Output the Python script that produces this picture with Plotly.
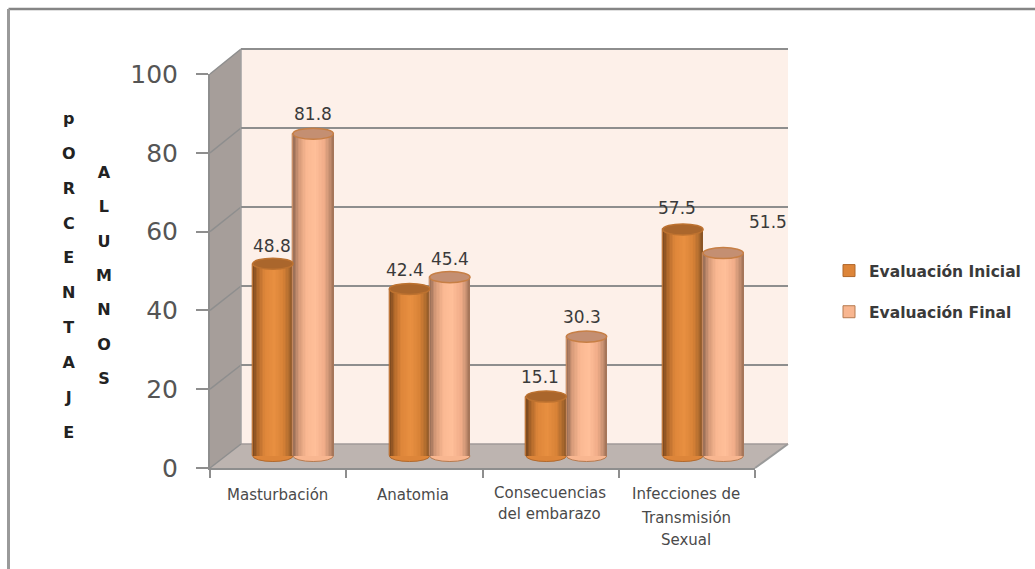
import plotly.graph_objects as go

W, H = 1035, 569

# Chart data
categories = ["Masturbación", "Anatomia", "Consecuencias del embarazo", "Infecciones de Transmisión Sexual"]
category_lines = [["Masturbación"], ["Anatomia"], ["Consecuencias", "del embarazo"], ["Infecciones de", "Transmisión", "Sexual"]]
evaluacion_inicial = [48.8, 42.4, 15.1, 57.5]
evaluacion_final = [81.8, 45.4, 30.3, 51.5]
y_ticks = [0, 20, 40, 60, 80, 100]
title_porcentaje = list("pORCENTAJE")
title_alumnos = list("ALUMNOS")

# Colour stops across a cylinder, left edge to right edge
STOPS_INICIAL = [(0, (128, 76, 32)), (0.10, (176, 104, 42)), (0.28, (222, 134, 58)), (0.52, (232, 143, 64)),
                 (0.75, (216, 130, 55)), (0.90, (176, 108, 46)), (1, (140, 86, 38))]
STOPS_FINAL = [(0, (158, 114, 90)), (0.12, (214, 154, 120)), (0.32, (250, 184, 146)), (0.55, (255, 191, 153)),
               (0.78, (240, 172, 136)), (0.92, (196, 142, 112)), (1, (166, 118, 90))]
FILL = {"i": "#DD8539", "f": "#F8B690"}
CAP = {"i": "#AA662C", "f": "#C48F72"}
CAP_EDGE = {"i": "#BD7230", "f": "#C77F45"}
EDGE = {"i": "#B0682C", "f": "#B57A50"}
GRID = "#8E8E8E"
TEXT = "#4A4A4A"


def px(x):
    return x / W


def py(y):
    return 1 - y / H


def ramp(stops, n):
    # Evaluate the colour stops at n even steps across the cylinder
    out = []
    for k in range(n):
        t = k / (n - 1)
        for (t0, c0), (t1, c1) in zip(stops, stops[1:]):
            if t <= t1:
                f = (t - t0) / (t1 - t0)
                out.append("rgb(%d,%d,%d)" % tuple(round(a + (b - a) * f) for a, b in zip(c0, c1)))
                break
    return out


# Three planes of the box: back wall, middle (cylinders) and front (axes)
BACK = dict(x0=241, x1=788, y0=444, y1=49)
MID = dict(x0=224.7, x1=771.4, y0=456, y1=62)
FRONT = dict(x0=210, x1=755, y0=468, y1=74)
MID_FLOOR = -6          # value below zero kept visible so the round cylinder bottoms are not clipped
PX_PER_UNIT = (MID["y0"] - MID["y1"]) / 100
CYL_W = 0.295           # cylinder width in category units
CAP_H = 1.4             # half height of the elliptical ends in value units
N_SLICES = 28

fig = go.Figure()


def add_series(name, values, key, stops, off):
    slice_w = CYL_W / N_SLICES
    xs = [i + off for i in range(len(values))]
    fig.add_bar(x=xs, y=values, width=CYL_W, name=name, xaxis="x3", yaxis="y3", legendgroup=name,
                marker=dict(color=FILL[key], line=dict(color=EDGE[key], width=1)), hoverinfo="skip")
    for k, colour in enumerate(ramp(stops, N_SLICES)):
        wide = slice_w * (2 if k < N_SLICES - 1 else 1)
        fig.add_bar(x=[x - CYL_W / 2 + slice_w * k for x in xs], y=values, width=wide, offset=0,
                    xaxis="x3", yaxis="y3", showlegend=False, legendgroup=name,
                    marker=dict(color=colour, line=dict(width=0)), hoverinfo="skip")


add_series("Evaluación Inicial", evaluacion_inicial, "i", STOPS_INICIAL, -CYL_W / 2)
add_series("Evaluación Final", evaluacion_final, "f", STOPS_FINAL, CYL_W / 2)

shapes = []


def poly(points, fill):
    path = "M" + " L".join(f"{px(x)},{py(y)}" for x, y in points) + " Z"
    shapes.append(dict(type="path", path=path, xref="paper", yref="paper", fillcolor=fill,
                       line=dict(width=0), layer="below"))


def seg(x0, y0, x1, y1, colour=GRID, width=2):
    shapes.append(dict(type="line", xref="paper", yref="paper", x0=px(x0), y0=py(y0), x1=px(x1), y1=py(y1),
                       line=dict(color=colour, width=width), layer="below"))


# Walls and floor of the box
poly([(BACK["x0"], BACK["y1"]), (BACK["x1"], BACK["y1"]), (BACK["x1"], BACK["y0"]), (BACK["x0"], BACK["y0"])], "#FDF0E9")
poly([(FRONT["x0"], FRONT["y1"]), (BACK["x0"], BACK["y1"]), (BACK["x0"], BACK["y0"]), (FRONT["x0"], FRONT["y0"])], "#A69E9A")
poly([(FRONT["x0"], FRONT["y0"]), (BACK["x0"], BACK["y0"]), (BACK["x1"], BACK["y0"]), (FRONT["x1"], FRONT["y0"])], "#BDB4B0")

# Slanted grid lines on the side wall
for t in y_ticks:
    yf = FRONT["y0"] + (FRONT["y1"] - FRONT["y0"]) * t / 100
    yb = BACK["y0"] + (BACK["y1"] - BACK["y0"]) * t / 100
    seg(FRONT["x0"], yf, BACK["x0"], yb, colour="#8E8E8E", width=1.5)
seg(FRONT["x1"], FRONT["y0"], BACK["x1"], BACK["y0"], colour="#9A9A9A", width=2)
seg(BACK["x0"], BACK["y1"], BACK["x0"], BACK["y0"], colour="#A0A0A0", width=1.5)

# Top and bottom edges of the back wall
seg(BACK["x0"], BACK["y1"], BACK["x1"], BACK["y1"], colour=GRID, width=2)
seg(BACK["x0"], BACK["y0"], BACK["x1"], BACK["y0"], colour="#A09A98", width=1.5)

# Frame around the picture: top and left only
seg(8.5, 9, W, 9, colour="#858585", width=2.5)
seg(8.5, 9, 8.5, H, colour="#9A9A9A", width=3)


def cylinder_ends(values, key, off):
    for i, v in enumerate(values):
        x = i + off
        # Bottom end sits beneath the bars, top end above them
        shapes.append(dict(type="circle", xref="x3", yref="y3", x0=x - CYL_W / 2, x1=x + CYL_W / 2,
                           y0=-CAP_H, y1=CAP_H, fillcolor=FILL[key], line=dict(color=EDGE[key], width=1), layer="below"))
        shapes.append(dict(type="circle", xref="x3", yref="y3", x0=x - CYL_W / 2, x1=x + CYL_W / 2,
                           y0=v - CAP_H, y1=v + CAP_H, fillcolor=CAP[key], line=dict(color=CAP_EDGE[key], width=1.5), layer="above"))


cylinder_ends(evaluacion_inicial, "i", -CYL_W / 2)
cylinder_ends(evaluacion_final, "f", CYL_W / 2)

annotations = []

# Value labels, with their pixel offset from the top of each cylinder
label_shift = {"i": [(-1, 18), (-5, 19), (-6, 20), (-6, 21)], "f": [(0, 20), (0, 18), (-5, 20), (45, 31)]}
for values, key, off in [(evaluacion_inicial, "i", -CYL_W / 2), (evaluacion_final, "f", CYL_W / 2)]:
    for i, v in enumerate(values):
        dx, dy = label_shift[key][i]
        annotations.append(dict(x=i + off, y=v, xref="x3", yref="y3", text=f"{v:.1f}", showarrow=False,
                                xanchor="center", yanchor="middle", xshift=dx, yshift=dy,
                                font=dict(family="DejaVu Sans", size=17, color="#3A3A3A")))

# Category labels, one annotation per line
line_rows = {1: [495], 2: [493, 514], 3: [494, 518, 540]}
for i, lines in enumerate(category_lines):
    for line, row in zip(lines, line_rows[len(lines)]):
        annotations.append(dict(x=i, y=py(row), xref="x2", yref="paper", text=line, showarrow=False, xshift=-1,
                                xanchor="center", yanchor="middle",
                                font=dict(family="DejaVu Sans", size=15, color=TEXT)))

# Stacked axis titles: two line steps of the base size between letters
for letters, x, y, size in [(title_porcentaje, 69, 275.5, 13.4), (title_alumnos, 104, 275, 13.2)]:
    text = "<br><br>".join(f'<span style="font-size:16px">{c}</span>' for c in letters)
    annotations.append(dict(x=px(x), y=py(y), xref="paper", yref="paper", showarrow=False, text=text,
                            xanchor="center", yanchor="middle",
                            font=dict(family="DejaVu Sans", size=size, weight="bold", color="#222222")))

hidden = dict(visible=False)
fig.update_layout(
    width=W, height=H, margin=dict(l=0, r=0, t=0, b=0, pad=0, autoexpand=False), autosize=False,
    paper_bgcolor="white", plot_bgcolor="rgba(0,0,0,0)", barmode="overlay", bargap=0,
    shapes=shapes, annotations=annotations,
    # Back wall: grid lines only
    xaxis=dict(domain=[px(BACK["x0"]), px(BACK["x1"])], range=[0, 1], anchor="y", **hidden),
    yaxis=dict(domain=[py(BACK["y0"]), py(BACK["y1"])], range=[0, 100], anchor="x", tickvals=y_ticks,
               showgrid=True, gridcolor=GRID, gridwidth=2, zeroline=False, showticklabels=False, ticks="", showline=False),
    # Front plane: visible axes
    xaxis2=dict(domain=[px(FRONT["x0"]), px(FRONT["x1"])], type="category", categoryorder="array", categoryarray=categories,
                range=[-0.5, 3.5], anchor="y2", tickson="boundaries", ticks="outside", ticklen=8, tickwidth=1.5,
                tickcolor=GRID, showline=True, linecolor=GRID, linewidth=2, showgrid=False, showticklabels=False),
    yaxis2=dict(domain=[py(FRONT["y0"]), py(FRONT["y1"])], range=[0, 100], anchor="x2", tickvals=y_ticks,
                ticks="outside", ticklen=12, tickwidth=1.5, tickcolor=GRID, showline=True, linecolor=GRID, linewidth=2,
                showgrid=False, zeroline=False, ticklabelstandoff=13,
                tickfont=dict(family="DejaVu Sans", size=25, color="#555555")),
    # Middle plane: cylinders
    xaxis3=dict(domain=[px(MID["x0"]), px(MID["x1"])], range=[-0.5, 3.5], anchor="y3", **hidden),
    yaxis3=dict(domain=[py(MID["y0"] - MID_FLOOR * PX_PER_UNIT), py(MID["y1"])], range=[MID_FLOOR, 100], anchor="x3", **hidden),
    legend=dict(x=px(829), y=py(254), xanchor="left", yanchor="top", tracegroupgap=18,
                bgcolor="rgba(0,0,0,0)", font=dict(family="DejaVu Sans", size=15.5, weight="bold", color="#3A3A3A")),
    showlegend=True,
)

# Empty traces that put the back-wall and front-plane axes on the page
fig.add_scatter(x=[None], y=[None], xaxis="x", yaxis="y", showlegend=False, hoverinfo="skip")
fig.add_scatter(x=categories, y=[None] * len(categories), xaxis="x2", yaxis="y2", showlegend=False, hoverinfo="skip")

fig.write_html("out.html")
